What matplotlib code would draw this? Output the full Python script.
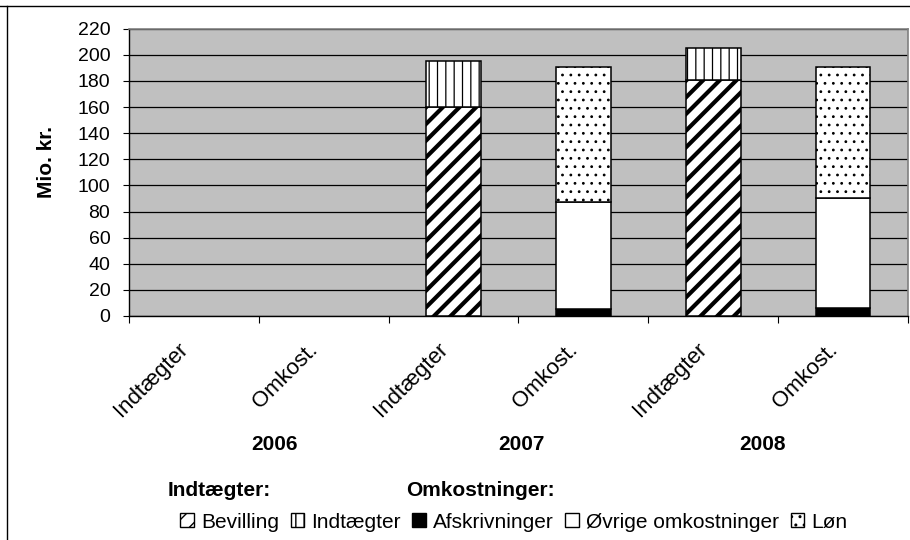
import matplotlib
matplotlib.use("Agg")
import matplotlib.pyplot as plt
import matplotlib.transforms as mtransforms
import numpy as np
from matplotlib.lines import Line2D
from matplotlib.patches import Patch

plt.rcParams["font.family"] = ["Liberation Sans", "DejaVu Sans"]

# data (Mio. kr.)
categories = ["Indtægter", "Omkost.", "Indtægter", "Omkost.", "Indtægter", "Omkost."]
years = ["2006", "2007", "2008"]
year_pos = [0.62, 2.52, 4.38]
bevilling = [0, 0, 160, 0, 181, 0]
indtaegter = [0, 0, 35, 0, 24, 0]
afskrivninger = [0, 0, 0, 5, 0, 6]
ovrige = [0, 0, 0, 82, 0, 84]
loen = [0, 0, 0, 104, 0, 101]

series = [
    ("Bevilling", bevilling, "white", "//", 3.0),
    ("Indtægter", indtaegter, "white", "||", 0.9),
    ("Afskrivninger", afskrivninger, "black", "", 1.0),
    ("Øvrige omkostninger", ovrige, "white", "", 1.0),
    ("Løn", loen, "white", "..", 0.8),
]

fig = plt.figure(figsize=(9.1, 5.4), dpi=100)
ax = fig.add_axes([129 / 910, 1 - 316 / 540, (908 - 129) / 910, (316 - 28.7) / 540])
ax.set_facecolor("#c0c0c0")

x = np.arange(len(categories))
bottom = np.zeros(len(categories))
handles = []
for name, vals, color, hatch, hlw in series:
    vals = np.asarray(vals, dtype=float)
    with plt.rc_context({"hatch.linewidth": hlw}):
        bars = ax.bar(x, vals, width=0.42, bottom=bottom, color=color,
                      edgecolor="black", linewidth=1.1, hatch=hatch or None,
                      zorder=3)
        proxy = Patch(facecolor=color, edgecolor="black", linewidth=1.0,
                      hatch=hatch or None, label=name)
    for p, v in zip(list(bars.patches) + [proxy], list(vals) + [1]):
        if hasattr(p, "set_hatch_linewidth"):
            p.set_hatch_linewidth(hlw)
        if v == 0:
            p.set_visible(False)
    handles.append(proxy)
    bottom += vals

ax.set_xlim(-0.5, len(categories) - 0.5)
ax.set_ylim(0, 220)
ax.set_yticks(np.arange(0, 221, 20))
ax.yaxis.grid(True, color="black", linewidth=0.9, zorder=1)
ax.set_axisbelow(True)
ax.tick_params(axis="y", direction="out", length=4.5, width=0.8, labelsize=14, pad=9)

ax.set_xticks(x)
ax.set_xticklabels(categories, rotation=45, ha="right", va="center",
                   rotation_mode="anchor", fontsize=16)
ax.tick_params(axis="x", which="major", length=0, pad=22)
shift = mtransforms.ScaledTranslation(-9 / 100, 0, fig.dpi_scale_trans)
for lbl in ax.get_xticklabels():
    lbl.set_transform(lbl.get_transform() + shift)
ax.set_xticks(np.arange(-0.5, len(categories), 1.0), minor=True)
ax.tick_params(axis="x", which="minor", direction="out", length=5, width=0.8)

for side in ("top", "right"):
    ax.spines[side].set_color("#808080")
    ax.spines[side].set_linewidth(1.2)
for side in ("left", "bottom"):
    ax.spines[side].set_color("black")
    ax.spines[side].set_linewidth(1.0)

year_y = -(444 - 316) / (316 - 28.7)
for label, xp in zip(years, year_pos):
    ax.text(xp, year_y, label, transform=ax.get_xaxis_transform(), ha="center",
            va="center", fontsize=15, fontweight="bold")

fig.text(46 / 910, 1 - 162 / 540, "Mio. kr.", rotation=90, ha="center", va="center",
         fontsize=15, fontweight="bold")

fig.text(168 / 910, 1 - 490 / 540, "Indtægter:", ha="left", va="center",
         fontsize=15, fontweight="bold")
fig.text(406 / 910, 1 - 490 / 540, "Omkostninger:", ha="left", va="center",
         fontsize=15, fontweight="bold")

fig.legend(handles=handles, ncol=5, loc="center",
           bbox_to_anchor=(514 / 910, 1 - 522 / 540), frameon=False,
           handlelength=0.65, handleheight=0.65, handletextpad=0.35,
           columnspacing=0.55, fontsize=15, borderaxespad=0)

# outer chart border (only top and left visible in the crop)
fig.add_artist(Line2D([0, 1], [1 - 6 / 540, 1 - 6 / 540], color="black", linewidth=1.0,
                      transform=fig.transFigure))
fig.add_artist(Line2D([7 / 910, 7 / 910], [0, 1 - 6 / 540], color="black", linewidth=1.0,
                      transform=fig.transFigure))

fig.savefig("out.png", dpi=100)
